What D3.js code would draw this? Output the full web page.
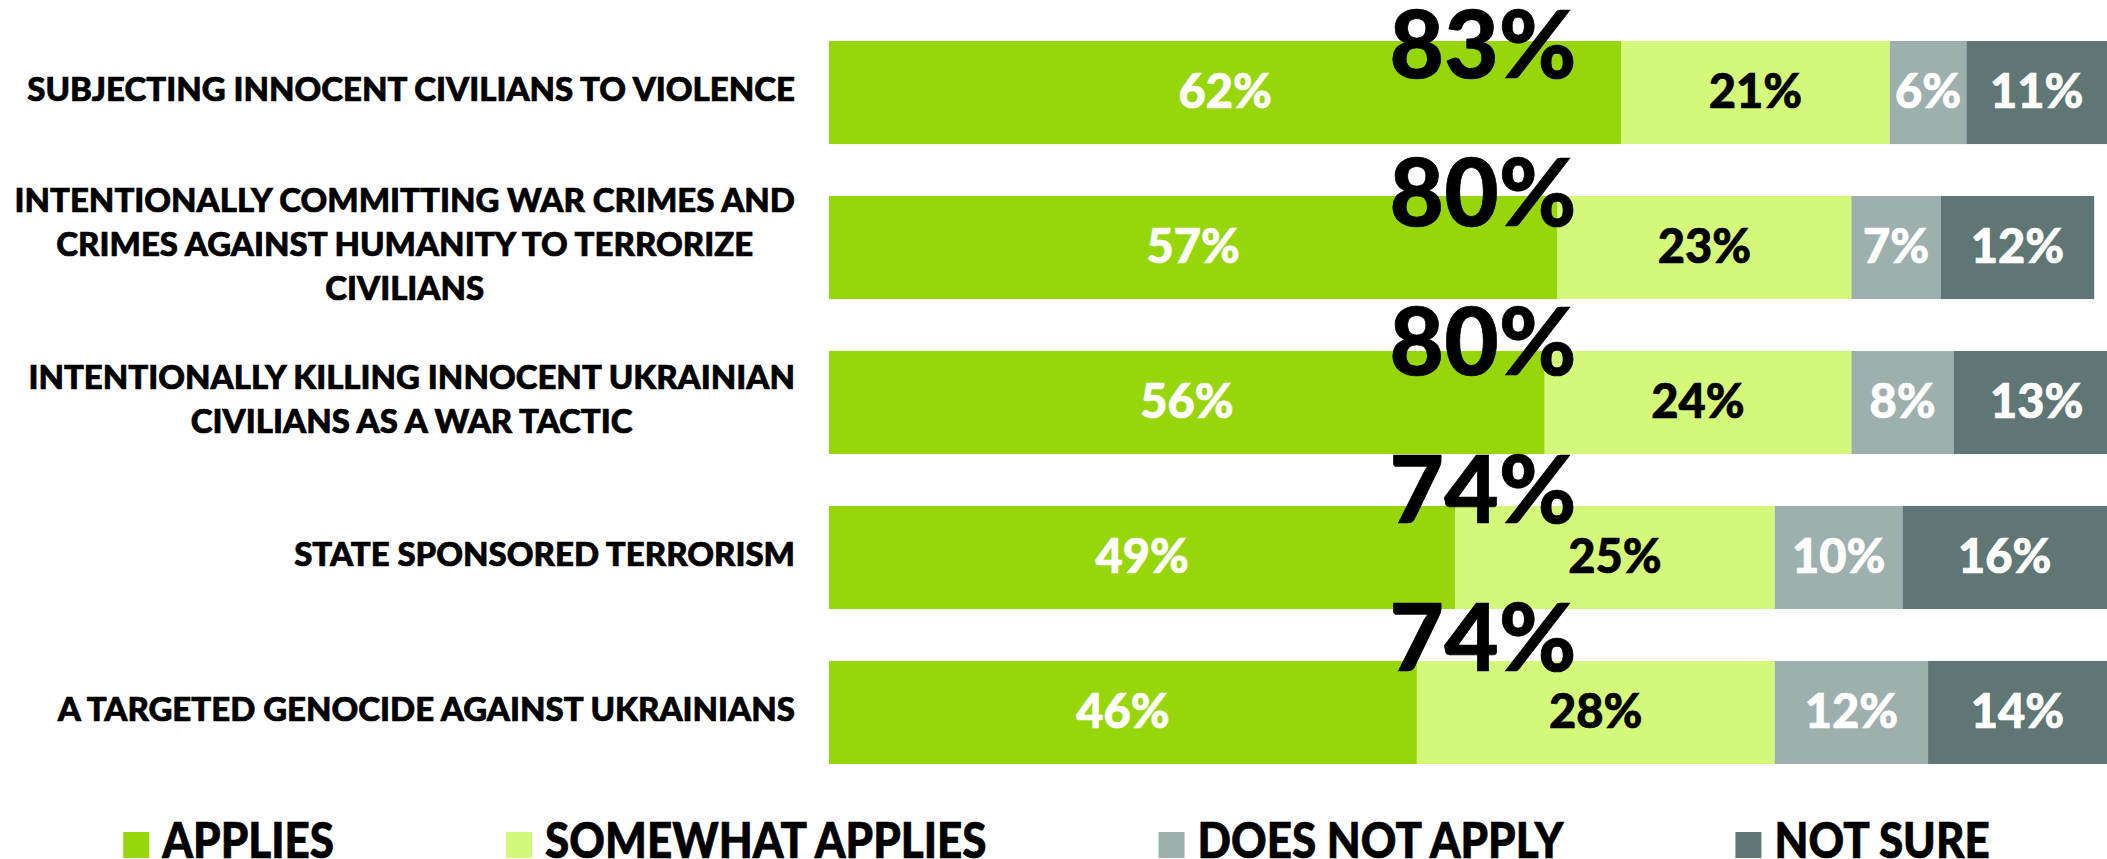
<!DOCTYPE html>
<head><style>
  body { margin: 0; background: #fff; }
  svg { display: block; background: #fff; }
  text { font-family: "Lato Black", Lato, "Open Sans", sans-serif; font-weight: 900; }
  .heavy { stroke-width: 0.7px; paint-order: stroke; }
</style></head>
<body>
    <div class="container"></div>
    <script src="https://d3js.org/d3.v7.min.js"></script>
    <script>
        var categories = [
            'SUBJECTING INNOCENT CIVILIANS TO VIOLENCE',
            'INTENTIONALLY COMMITTING WAR CRIMES AND CRIMES AGAINST HUMANITY TO TERRORIZE CIVILIANS',
            'INTENTIONALLY KILLING INNOCENT UKRAINIAN CIVILIANS AS A WAR TACTIC',
            'STATE SPONSORED TERRORISM',
            'A TARGETED GENOCIDE AGAINST UKRAINIANS'
        ];
        var seriesNames = ['APPLIES', 'SOMEWHAT APPLIES', 'DOES NOT APPLY', 'NOT SURE'];
        var applies         = [62, 57, 56, 49, 46];
        var somewhatApplies = [21, 23, 24, 25, 28];
        var doesNotApply    = [6, 7, 8, 10, 12];
        var notSure         = [11, 12, 13, 16, 14];
        var totals          = [83, 80, 80, 74, 74];

        var colors = ['#97d60a', '#d4f87a', '#9db0ae', '#5f7674'];
        var labelColors = ['#fff', '#000', '#fff', '#fff'];

        var W = 2107, H = 859;
        var svg = d3.select('.container')
                    .append('svg')
                    .attr('width', W)
                    .attr('height', H);

        var rows = categories.map(function(c, i) {
            return { category: c, applies: applies[i], somewhat: somewhatApplies[i],
                     notapply: doesNotApply[i], notsure: notSure[i], total: totals[i] };
        });
        var keys = ['applies', 'somewhat', 'notapply', 'notsure'];
        var stack = d3.stack().keys(keys)(rows);

        var x = d3.scaleLinear().domain([0, 100]).range([829, W]);
        var y = d3.scaleBand().domain(categories).range([41, 764]).paddingInner(0.335);
        var yTotal = d3.scalePoint().domain(categories).range([78, 671]);

        // bars
        var layer = svg.selectAll('g.layer')
                       .data(stack)
                       .enter().append('g')
                       .attr('class', 'layer')
                       .attr('fill', function(d, i) { return colors[i]; });

        layer.selectAll('rect')
             .data(function(d) { return d; })
             .enter().append('rect')
             .attr('x', function(d) { return x(d[0]); })
             .attr('y', function(d) { return y(d.data.category); })
             .attr('width', function(d) { return x(d[1]) - x(d[0]); })
             .attr('height', y.bandwidth());

        // segment labels
        var segSize = 47;
        layer.each(function(s, i) {
            d3.select(this).selectAll('text')
              .data(s)
              .enter().append('text')
              .attr('class', 'heavy')
              .attr('x', function(d) { return (x(d[0]) + x(d[1])) / 2; })
              .attr('y', function(d) { return y(d.data.category) + y.bandwidth() / 2 + segSize * 0.36 - 1; })
              .attr('text-anchor', 'middle')
              .attr('font-size', segSize)
              .attr('fill', labelColors[i])
              .attr('stroke', labelColors[i])
              .text(function(d) { return (d[1] - d[0]) + '%'; });
        });

        // big totals
        svg.selectAll('text.total')
           .data(rows)
           .enter().append('text')
           .attr('class', 'total heavy')
           .attr('x', x(50) + 15)
           .attr('y', function(d) { return yTotal(d.category); })
           .attr('text-anchor', 'middle')
           .attr('font-size', 94)
           .attr('fill', '#000')
           .attr('stroke', '#000')
           .text(function(d) { return d.total + '%'; });

        // category labels, wrapped and centred inside a right-aligned block
        var catSize = 33, lineH = 44, maxW = 815;
        function wrapLines(str) {
            var probe = svg.append('text').attr('font-size', catSize);
            var words = str.split(' '), lines = [], line = [];
            words.forEach(function(w) {
                line.push(w);
                probe.text(line.join(' '));
                if (probe.node().getComputedTextLength() > maxW && line.length > 1) {
                    line.pop();
                    lines.push(line.join(' '));
                    line = [w];
                }
            });
            lines.push(line.join(' '));
            probe.remove();
            return lines;
        }

        categories.forEach(function(c) {
            var lines = wrapLines(c);
            var g = svg.append('text')
                       .attr('class', 'heavy')
                       .attr('font-size', catSize)
                       .attr('fill', '#000')
                       .attr('stroke', '#000')
                       .attr('text-anchor', 'middle');
            var cy = y(c) + y.bandwidth() / 2 - 3;
            var y0 = cy - (lines.length - 1) * lineH / 2 + catSize * 0.36;
            var spans = g.selectAll('tspan')
                         .data(lines)
                         .enter().append('tspan')
                         .attr('y', function(d, i) { return y0 + i * lineH; })
                         .text(function(d) { return d; });
            var widest = d3.max(spans.nodes(), function(n) { return n.getComputedTextLength(); });
            spans.attr('x', x(0) - 34 - widest / 2);
        });

        // legend
        var legSize = 50, squeeze = 0.88, box = 26, gapText = 39, gapItem = 172;
        var leg = svg.append('g');
        var cursor = 0;
        seriesNames.forEach(function(name, i) {
            leg.append('rect')
               .attr('x', cursor)
               .attr('y', 832)
               .attr('width', box)
               .attr('height', box)
               .attr('fill', colors[i]);
            var t = leg.append('text')
                       .attr('class', 'heavy')
                       .attr('x', cursor + gapText)
                       .attr('y', 858)
                       .attr('font-size', legSize)
                       .attr('fill', '#000')
                       .attr('stroke', '#000')
                       .text(name);
            var w = t.node().getComputedTextLength() * squeeze;
            t.attr('textLength', w).attr('lengthAdjust', 'spacingAndGlyphs');
            cursor += gapText + w + gapItem;
        });
        var legW = cursor - gapItem;
        leg.attr('transform', 'translate(' + (W / 2 + 3 - legW / 2) + ',0)');
    </script>
</body>
